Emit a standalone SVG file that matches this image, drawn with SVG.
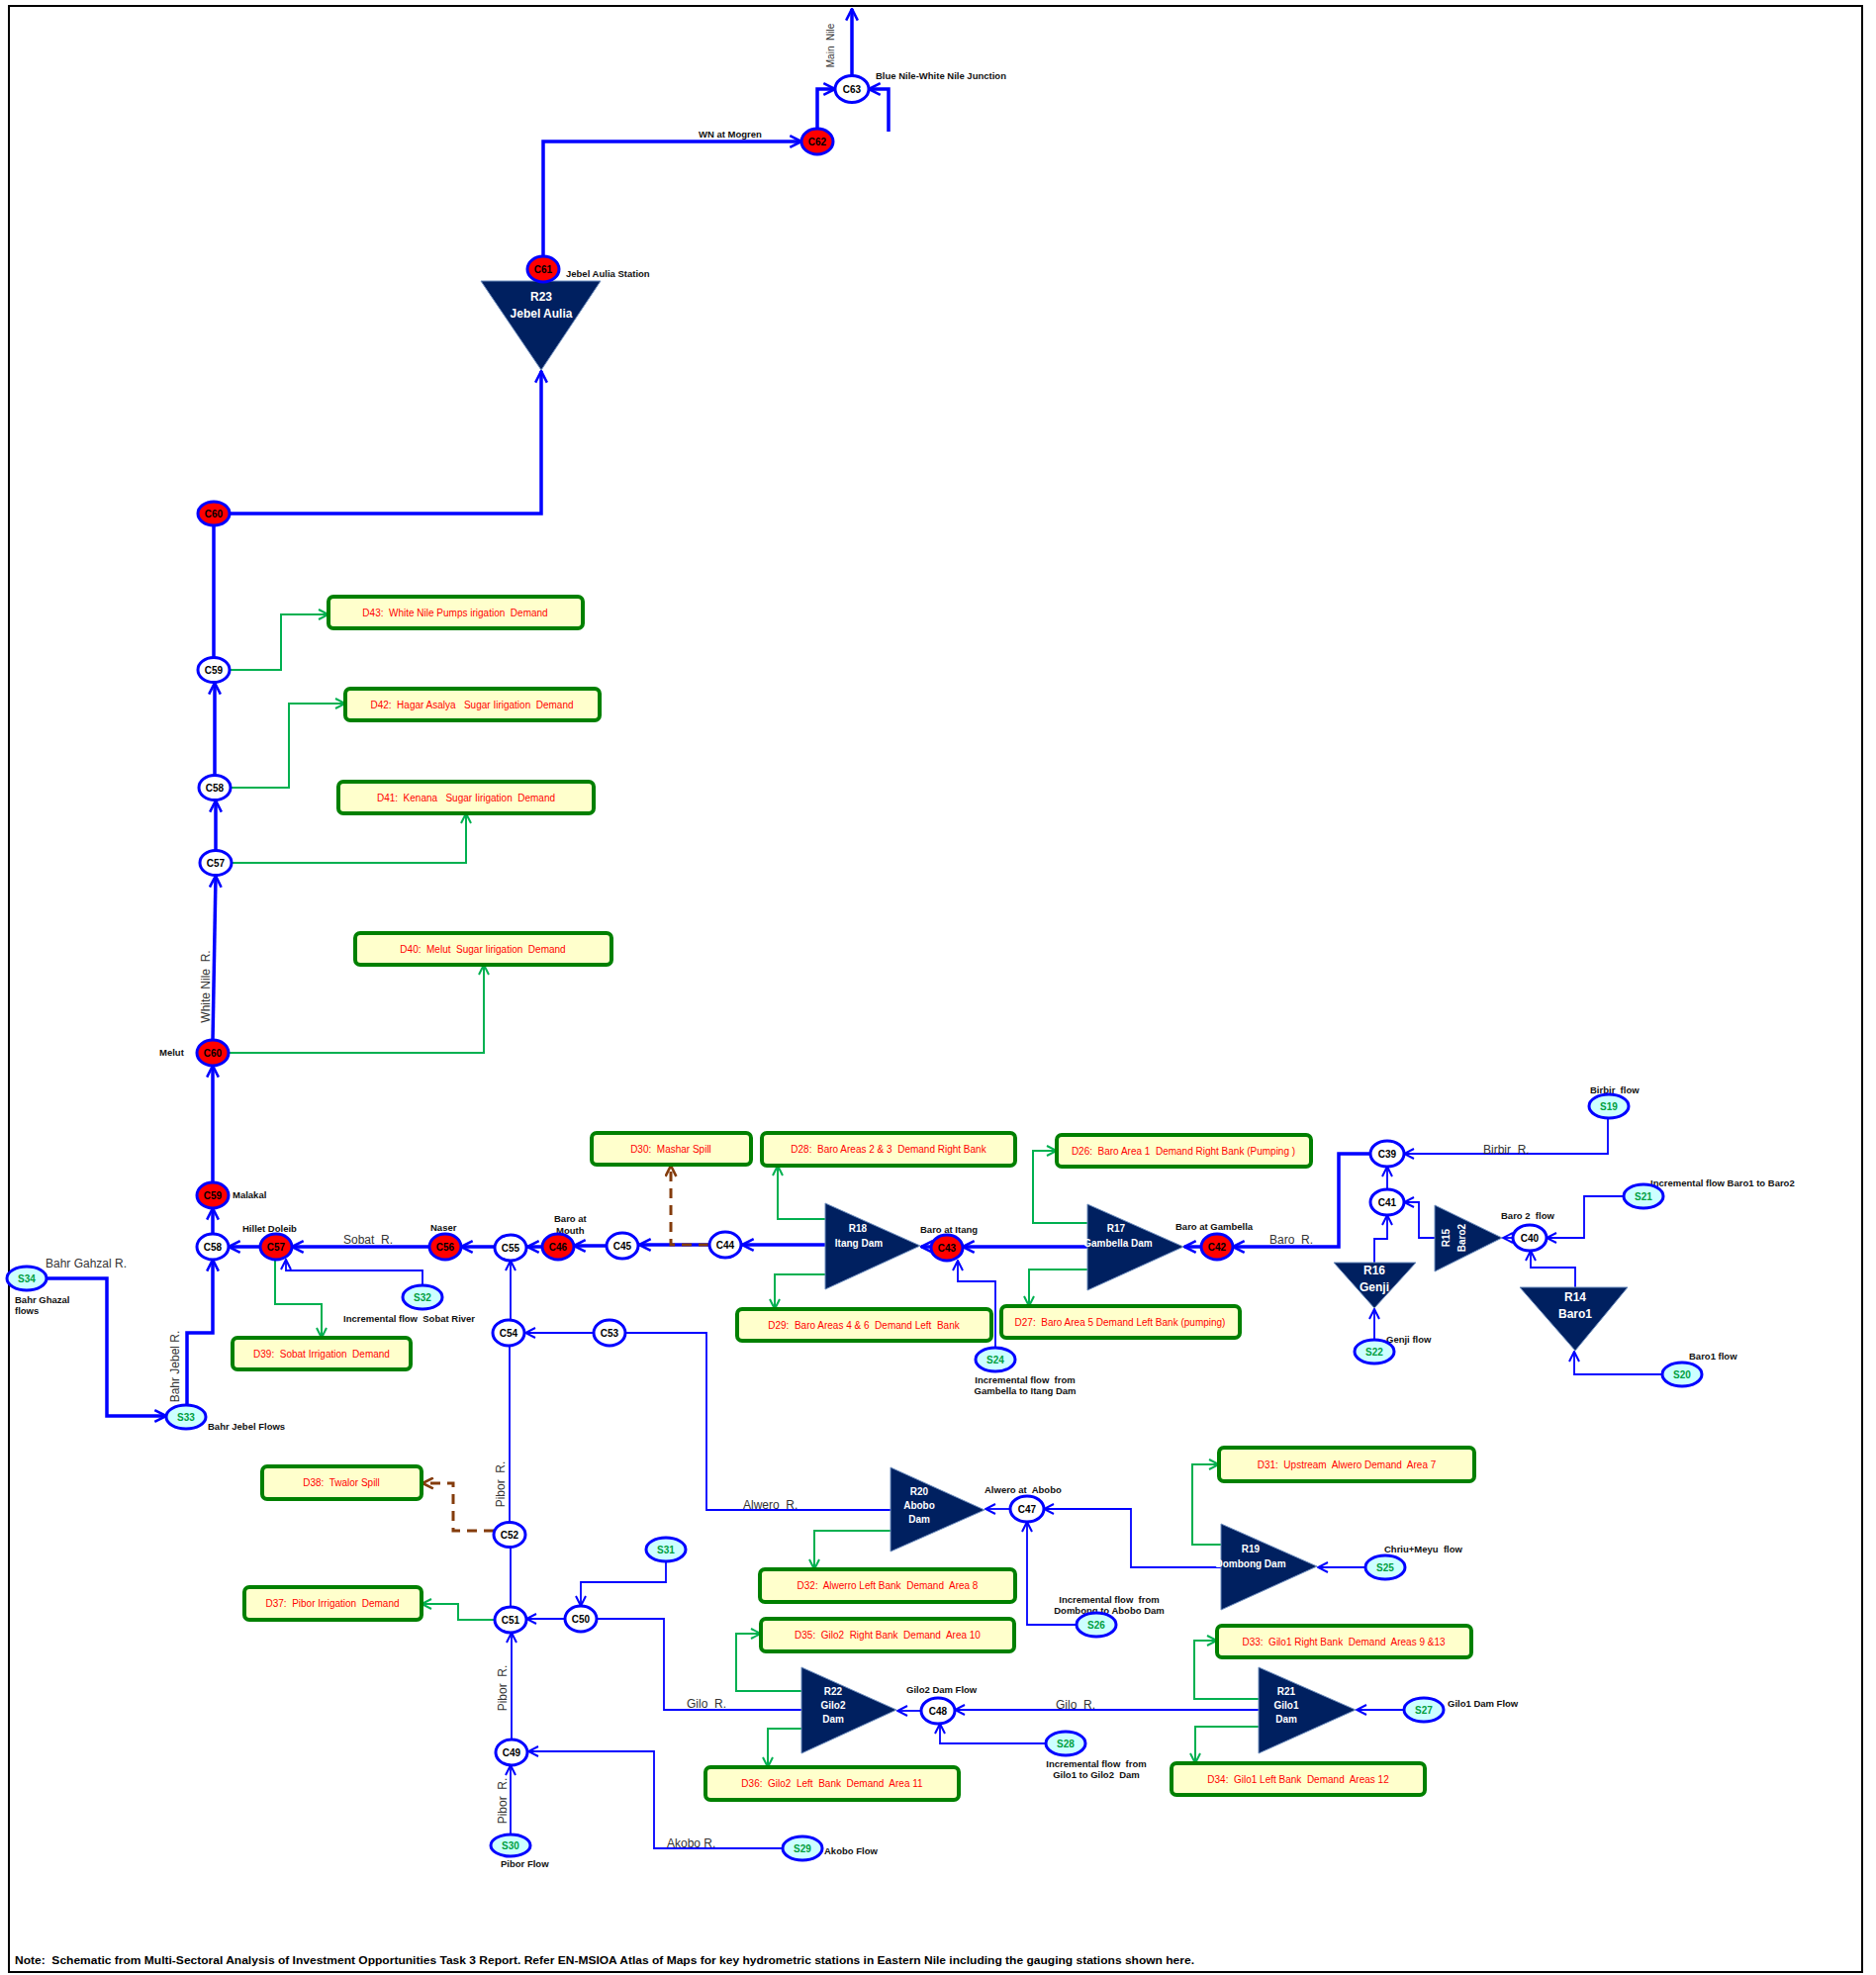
<svg xmlns="http://www.w3.org/2000/svg" width="1896" height="1996" viewBox="0 0 1896 1996">
<style>
text{font-family:"Liberation Sans",Arial,sans-serif;white-space:pre}
.cn{fill:#fff;stroke:#0000ff;stroke-width:3}
.cr{fill:#ff0000;stroke:#0000ff;stroke-width:3}
.sn{fill:#ccffff;stroke:#0000ff;stroke-width:3}
.nt{font-size:10px;font-weight:bold;fill:#000;text-anchor:middle}
.st{font-size:10px;font-weight:bold;fill:#00a040;text-anchor:middle}
.res{fill:#002060;stroke:#6f8fbf;stroke-width:1}
.rt{font-size:10px;font-weight:bold;fill:#fff;text-anchor:middle}
.rtb{font-size:12px;font-weight:bold;fill:#fff;text-anchor:middle}
.dm{fill:#ffffcc;stroke:#008000;stroke-width:4}
.dt{font-size:10px;fill:#ff0000;text-anchor:middle}
.lb{font-size:9.5px;font-weight:bold;fill:#111}
.lbm{font-size:9.5px;font-weight:bold;fill:#111;text-anchor:middle}
.rv{font-size:12px;fill:#333}
.rvm{font-size:12px;fill:#333;text-anchor:middle}
.w3{fill:none;stroke:#0000ff;stroke-width:3.5}
.w2{fill:none;stroke:#0000ff;stroke-width:1.8}
.g{fill:none;stroke:#00b050;stroke-width:2}
.sp{fill:none;stroke:#843c0c;stroke-width:3;stroke-dasharray:10 7}
</style>
<defs>
<marker id="ab" viewBox="0 0 12 12" refX="11" refY="6" markerWidth="14" markerHeight="14" markerUnits="userSpaceOnUse" orient="auto"><path d="M1,1 L11,6 L1,11" fill="none" stroke="#0000ff" stroke-width="2.2"/></marker>
<marker id="as" viewBox="0 0 12 12" refX="11" refY="6" markerWidth="12" markerHeight="12" markerUnits="userSpaceOnUse" orient="auto"><path d="M1,1 L11,6 L1,11" fill="none" stroke="#0000ff" stroke-width="2"/></marker>
<marker id="ag" viewBox="0 0 12 12" refX="11" refY="6" markerWidth="12" markerHeight="12" markerUnits="userSpaceOnUse" orient="auto"><path d="M1,1 L11,6 L1,11" fill="none" stroke="#00b050" stroke-width="2"/></marker>
<marker id="ar" viewBox="0 0 12 12" refX="11" refY="6" markerWidth="13" markerHeight="13" markerUnits="userSpaceOnUse" orient="auto"><path d="M1,1 L11,6 L1,11" fill="none" stroke="#843c0c" stroke-width="2.4"/></marker>
</defs>
<rect x="0" y="0" width="1896" height="1996" fill="#fff"/>
<rect x="9" y="6" width="1873" height="1987" fill="none" stroke="#000" stroke-width="2"/>

<g id="connectors">
<path class="w3" d="M232,519 H547 V375" marker-end="url(#ab)"/>
<path class="w3" d="M549,259 V143 H810" marker-end="url(#ab)"/>
<path class="w3" d="M826,130 V90 H844" marker-end="url(#ab)"/>
<path class="w3" d="M898,133 V90 H878" marker-end="url(#ab)"/>
<path class="w3" d="M861,77 V9" marker-end="url(#ab)"/>
<path class="w3" d="M216,664 V531"/>
<path class="w3" d="M217,783 V690" marker-end="url(#ab)"/>
<path class="w3" d="M218,859 V809" marker-end="url(#ab)"/>
<path class="w3" d="M215,1051 L218,885" marker-end="url(#ab)"/>
<path class="w3" d="M215,1195 V1077" marker-end="url(#ab)"/>
<path class="w3" d="M215,1247 V1221" marker-end="url(#ab)"/>
<path class="w3" d="M263,1260 H231" marker-end="url(#ab)"/>
<path class="w3" d="M434,1260 H295" marker-end="url(#ab)"/>
<path class="w3" d="M500,1260 H466" marker-end="url(#ab)"/>
<path class="w3" d="M548,1260 H533" marker-end="url(#ab)"/>
<path class="w3" d="M612,1259 H580" marker-end="url(#ab)"/>
<path class="w3" d="M716,1258 H646" marker-end="url(#ab)"/>
<path class="w3" d="M834,1258 H750" marker-end="url(#ab)"/>
<path class="w3" d="M941,1260 H931" marker-end="url(#ab)"/>
<path class="w3" d="M1099,1260 H973" marker-end="url(#ab)"/>
<path class="w3" d="M1214,1260 H1197" marker-end="url(#ab)"/>
<path class="w3" d="M1385,1166 H1353 V1260 H1246" marker-end="url(#ab)"/>
<path class="w3" d="M47,1292 H108 V1431 H168" marker-end="url(#ab)"/>
<path class="w3" d="M189,1420 V1347 H215 V1273" marker-end="url(#ab)"/>

<path class="w2" d="M1402,1202 V1179" marker-end="url(#as)"/>
<path class="w2" d="M1389,1276 V1252 H1402 V1228" marker-end="url(#as)"/>
<path class="w2" d="M1389,1354 V1323" marker-end="url(#as)"/>
<path class="w2" d="M1450,1251 H1434 V1215 H1419" marker-end="url(#as)"/>
<path class="w2" d="M1529,1251 H1519" marker-end="url(#as)"/>
<path class="w2" d="M1641,1209 H1601 V1251 H1563" marker-end="url(#as)"/>
<path class="w2" d="M1592,1301 V1281 H1547 V1264" marker-end="url(#as)"/>
<path class="w2" d="M1680,1389 H1591 V1366" marker-end="url(#as)"/>
<path class="w2" d="M1625,1130 V1166 H1419" marker-end="url(#as)"/>
<path class="w2" d="M1006,1362 V1295 H968 V1274" marker-end="url(#as)"/>
<path class="w2" d="M427,1299 V1284 H289 V1273" marker-end="url(#as)"/>
<path class="w2" d="M516,1334 V1274" marker-end="url(#as)"/>
<path class="w2" d="M599,1347 H531" marker-end="url(#as)"/>
<path class="w2" d="M515,1360 V1538"/>
<path class="w2" d="M516,1564 V1624"/>
<path class="w2" d="M570,1636 H532" marker-end="url(#as)"/>
<path class="w2" d="M673,1578 V1599 H587 V1623" marker-end="url(#as)"/>
<path class="w2" d="M810,1728 H671 V1636 H604"/>
<path class="w2" d="M517,1758 V1650" marker-end="url(#as)"/>
<path class="w2" d="M516,1854 V1784" marker-end="url(#as)"/>
<path class="w2" d="M791,1868 H661 V1770 H534" marker-end="url(#as)"/>
<path class="w2" d="M633,1347 H714 V1526 H900"/>
<path class="w2" d="M1021,1525 H996" marker-end="url(#as)"/>
<path class="w2" d="M1234,1584 H1143 V1525 H1055" marker-end="url(#as)"/>
<path class="w2" d="M1380,1584 H1332" marker-end="url(#as)"/>
<path class="w2" d="M1088,1642 H1038 V1538" marker-end="url(#as)"/>
<path class="w2" d="M931,1729 H907" marker-end="url(#as)"/>
<path class="w2" d="M1272,1728 H965" marker-end="url(#as)"/>
<path class="w2" d="M1419,1728 H1371" marker-end="url(#as)"/>
<path class="w2" d="M1057,1762 H950 V1742" marker-end="url(#as)"/>

<path class="g" d="M232,677 H284 V621 H332" marker-end="url(#ag)"/>
<path class="g" d="M233,796 H292 V711 H349" marker-end="url(#ag)"/>
<path class="g" d="M234,872 H471 V822" marker-end="url(#ag)"/>
<path class="g" d="M231,1064 H489 V975" marker-end="url(#ag)"/>
<path class="g" d="M278,1273 V1318 H325 V1352" marker-end="url(#ag)"/>
<path class="g" d="M834,1232 H786 V1178" marker-end="url(#ag)"/>
<path class="g" d="M834,1288 H783 V1323" marker-end="url(#ag)"/>
<path class="g" d="M1099,1236 H1044 V1163 H1068" marker-end="url(#ag)"/>
<path class="g" d="M1099,1283 H1040 V1320" marker-end="url(#ag)"/>
<path class="g" d="M500,1637 H463 V1621 H426" marker-end="url(#ag)"/>
<path class="g" d="M900,1547 H823 V1586" marker-end="url(#ag)"/>
<path class="g" d="M1234,1561 H1205 V1480 H1232" marker-end="url(#ag)"/>
<path class="g" d="M810,1709 H744 V1651 H769" marker-end="url(#ag)"/>
<path class="g" d="M810,1747 H776 V1786" marker-end="url(#ag)"/>
<path class="g" d="M1272,1717 H1207 V1658 H1230" marker-end="url(#ag)"/>
<path class="g" d="M1272,1745 H1208 V1782" marker-end="url(#ag)"/>

<path class="sp" d="M716,1258 H678 V1178" marker-end="url(#ar)"/>
<path class="sp" d="M499,1547 H458 V1499 H427" marker-end="url(#ar)"/>
</g>

<g id="labels">
<text class="rvm" style="font-size:10px" transform="translate(843,46) rotate(-90)">Main  Nile</text>
<text class="lb" x="885" y="80">Blue Nile-White Nile Junction</text>
<text class="lb" x="706" y="139">WN at Mogren</text>
<text class="lb" x="572" y="280">Jebel Aulia Station</text>
<text class="rvm" transform="translate(212,997) rotate(-90)">White Nile  R.</text>
<text class="lb" x="161" y="1067">Melut</text>
<text class="lb" x="235" y="1211">Malakal</text>
<text class="lb" x="245" y="1245">Hillet Doleib</text>
<text class="lb" x="435" y="1244">Naser</text>
<text class="lb" x="560" y="1235">Baro at</text>
<text class="lb" x="562" y="1247">Mouth</text>
<text class="rv" x="347" y="1257">Sobat  R.</text>
<text class="rv" x="46" y="1281">Bahr Gahzal R.</text>
<text class="lb" x="15" y="1317">Bahr Ghazal</text>
<text class="lb" x="15" y="1328">flows</text>
<text class="rvm" transform="translate(181,1381) rotate(-90)">Bahr Jebel R.</text>
<text class="lb" x="210" y="1445">Bahr Jebel Flows</text>
<text class="lb" x="347" y="1336">Incremental flow  Sobat River</text>
<text class="lb" x="930" y="1246">Baro at Itang</text>
<text class="lbm" x="1036" y="1398">Incremental flow  from</text>
<text class="lbm" x="1036" y="1409">Gambella to Itang Dam</text>
<text class="lb" x="1188" y="1243">Baro at Gambella</text>
<text class="rv" x="1283" y="1257">Baro  R.</text>
<text class="rv" x="1499" y="1166">Birbir  R.</text>
<text class="lb" x="1607" y="1105">Birbir  flow</text>
<text class="lb" x="1668" y="1199">Incremental flow Baro1 to Baro2</text>
<text class="lb" x="1517" y="1232">Baro 2  flow</text>
<text class="lb" x="1401" y="1357">Genji flow</text>
<text class="lb" x="1707" y="1374">Baro1 flow</text>
<text class="rvm" transform="translate(510,1500) rotate(-90)">Pibor  R.</text>
<text class="rvm" transform="translate(512,1706) rotate(-90)">Pibor  R.</text>
<text class="rvm" transform="translate(512,1820) rotate(-90)">Pibor  R.</text>
<text class="lb" x="506" y="1887">Pibor Flow</text>
<text class="rv" x="674" y="1867">Akobo R.</text>
<text class="lb" x="833" y="1874">Akobo Flow</text>
<text class="rv" x="751" y="1525">Alwero  R.</text>
<text class="lb" x="995" y="1509">Alwero at  Abobo</text>
<text class="lb" x="1399" y="1569">Chriu+Meyu  flow</text>
<text class="lbm" x="1121" y="1620">Incremental flow  from</text>
<text class="lbm" x="1121" y="1631">Dombong to Abobo Dam</text>
<text class="rv" x="694" y="1726">Gilo  R.</text>
<text class="rv" x="1067" y="1727">Gilo  R.</text>
<text class="lb" x="916" y="1711">Gilo2 Dam Flow</text>
<text class="lb" x="1463" y="1725">Gilo1 Dam Flow</text>
<text class="lbm" x="1108" y="1786">Incremental flow  from</text>
<text class="lbm" x="1108" y="1797">Gilo1 to Gilo2  Dam</text>
<text x="15" y="1985" style="font-size:10.5px;font-weight:bold;fill:#000" textLength="1192" lengthAdjust="spacingAndGlyphs">Note:  Schematic from Multi-Sectoral Analysis of Investment Opportunities Task 3 Report. Refer EN-MSIOA Atlas of Maps for key hydrometric stations in Eastern Nile including the gauging stations shown here.</text>
</g>

<g id="R23"><polygon class="res" points="486,284 607,284 547,374"/><text class="rtb" x="547" y="304">R23</text><text class="rtb" x="547" y="321">Jebel Aulia</text></g>
<g id="R18"><polygon class="res" points="834,1216 834,1303 930,1259"/><text class="rt" x="867" y="1245">R18</text><text class="rt" x="868" y="1260">Itang Dam</text></g>
<g id="R17"><polygon class="res" points="1099,1217 1099,1304 1196,1260"/><text class="rt" x="1128" y="1245">R17</text><text class="rt" x="1130" y="1260">Gambella Dam</text></g>
<g id="R16"><polygon class="res" points="1348,1276 1431,1276 1389,1322"/><text class="rtb" x="1389" y="1288">R16</text><text class="rtb" x="1389" y="1305">Genji</text></g>
<g id="R15"><polygon class="res" points="1450,1218 1450,1285 1518,1251"/><text class="rt" transform="translate(1465,1251) rotate(-90)">R15</text><text class="rt" transform="translate(1481,1251) rotate(-90)">Baro2</text></g>
<g id="R14"><polygon class="res" points="1536,1301 1645,1301 1592,1365"/><text class="rtb" x="1592" y="1315">R14</text><text class="rtb" x="1592" y="1332">Baro1</text></g>
<g id="R20"><polygon class="res" points="900,1483 900,1568 995,1526"/><text class="rt" x="929" y="1511">R20</text><text class="rt" x="929" y="1525">Abobo</text><text class="rt" x="929" y="1539">Dam</text></g>
<g id="R19"><polygon class="res" points="1234,1540 1234,1627 1331,1583"/><text class="rt" x="1264" y="1569">R19</text><text class="rt" x="1264" y="1584">Dombong Dam</text></g>
<g id="R22"><polygon class="res" points="810,1685 810,1772 906,1728"/><text class="rt" x="842" y="1713">R22</text><text class="rt" x="842" y="1727">Gilo2</text><text class="rt" x="842" y="1741">Dam</text></g>
<g id="R21"><polygon class="res" points="1272,1685 1272,1772 1370,1728"/><text class="rt" x="1300" y="1713">R21</text><text class="rt" x="1300" y="1727">Gilo1</text><text class="rt" x="1300" y="1741">Dam</text></g>

<g id="C63"><ellipse class="cn" cx="861" cy="90" rx="17" ry="13.5"/><text class="nt" x="861" y="93.5">C63</text></g>
<g id="C62"><ellipse class="cr" cx="826" cy="143" rx="16" ry="13"/><text class="nt" x="826" y="146.5">C62</text></g>
<g id="C61"><ellipse class="cr" cx="549" cy="272" rx="16" ry="13"/><text class="nt" x="549" y="275.5">C61</text></g>
<g id="C60-upper"><ellipse class="cr" cx="216" cy="519" rx="16" ry="12"/><text class="nt" x="216" y="522.5">C60</text></g>
<g id="C59-upper"><ellipse class="cn" cx="216" cy="677" rx="16" ry="12.5"/><text class="nt" x="216" y="680.5">C59</text></g>
<g id="C58-upper"><ellipse class="cn" cx="217" cy="796" rx="16" ry="12.5"/><text class="nt" x="217" y="799.5">C58</text></g>
<g id="C57-upper"><ellipse class="cn" cx="218" cy="872" rx="16" ry="12.5"/><text class="nt" x="218" y="875.5">C57</text></g>
<g id="C60-melut"><ellipse class="cr" cx="215" cy="1064" rx="16" ry="13"/><text class="nt" x="215" y="1067.5">C60</text></g>
<g id="C59-malakal"><ellipse class="cr" cx="215" cy="1208" rx="16" ry="13"/><text class="nt" x="215" y="1211.5">C59</text></g>
<g id="C58-lower"><ellipse class="cn" cx="215" cy="1260" rx="16" ry="13"/><text class="nt" x="215" y="1263.5">C58</text></g>
<g id="C57-hillet"><ellipse class="cr" cx="279" cy="1260" rx="16" ry="13"/><text class="nt" x="279" y="1263.5">C57</text></g>
<g id="C56"><ellipse class="cr" cx="450" cy="1260" rx="16" ry="13"/><text class="nt" x="450" y="1263.5">C56</text></g>
<g id="C55"><ellipse class="cn" cx="516" cy="1261" rx="16" ry="13"/><text class="nt" x="516" y="1264.5">C55</text></g>
<g id="C46"><ellipse class="cr" cx="564" cy="1260" rx="16" ry="13"/><text class="nt" x="564" y="1263.5">C46</text></g>
<g id="C45"><ellipse class="cn" cx="629" cy="1259" rx="16" ry="13"/><text class="nt" x="629" y="1262.5">C45</text></g>
<g id="C44"><ellipse class="cn" cx="733" cy="1258" rx="16" ry="13"/><text class="nt" x="733" y="1261.5">C44</text></g>
<g id="C43"><ellipse class="cr" cx="957" cy="1261" rx="16" ry="13"/><text class="nt" x="957" y="1264.5">C43</text></g>
<g id="C42"><ellipse class="cr" cx="1230" cy="1260" rx="16" ry="13"/><text class="nt" x="1230" y="1263.5">C42</text></g>
<g id="C39"><ellipse class="cn" cx="1402" cy="1166" rx="17" ry="13"/><text class="nt" x="1402" y="1169.5">C39</text></g>
<g id="C41"><ellipse class="cn" cx="1402" cy="1215" rx="17" ry="13"/><text class="nt" x="1402" y="1218.5">C41</text></g>
<g id="C40"><ellipse class="cn" cx="1546" cy="1251" rx="17" ry="13"/><text class="nt" x="1546" y="1254.5">C40</text></g>
<g id="C54"><ellipse class="cn" cx="514" cy="1347" rx="16" ry="13"/><text class="nt" x="514" y="1350.5">C54</text></g>
<g id="C53"><ellipse class="cn" cx="616" cy="1347" rx="16" ry="13"/><text class="nt" x="616" y="1350.5">C53</text></g>
<g id="C52"><ellipse class="cn" cx="515" cy="1551" rx="16" ry="12.5"/><text class="nt" x="515" y="1554.5">C52</text></g>
<g id="C51"><ellipse class="cn" cx="516" cy="1637" rx="16" ry="13"/><text class="nt" x="516" y="1640.5">C51</text></g>
<g id="C50"><ellipse class="cn" cx="587" cy="1636" rx="16" ry="13"/><text class="nt" x="587" y="1639.5">C50</text></g>
<g id="C49"><ellipse class="cn" cx="517" cy="1771" rx="16" ry="13"/><text class="nt" x="517" y="1774.5">C49</text></g>
<g id="C47"><ellipse class="cn" cx="1038" cy="1525" rx="17" ry="13"/><text class="nt" x="1038" y="1528.5">C47</text></g>
<g id="C48"><ellipse class="cn" cx="948" cy="1729" rx="17" ry="13"/><text class="nt" x="948" y="1732.5">C48</text></g>

<g id="S19"><ellipse class="sn" cx="1626" cy="1118" rx="20" ry="12"/><text class="st" x="1626" y="1121.5">S19</text></g>
<g id="S20"><ellipse class="sn" cx="1700" cy="1389" rx="20" ry="12"/><text class="st" x="1700" y="1392.5">S20</text></g>
<g id="S21"><ellipse class="sn" cx="1661" cy="1209" rx="20" ry="12"/><text class="st" x="1661" y="1212.5">S21</text></g>
<g id="S22"><ellipse class="sn" cx="1389" cy="1366" rx="20" ry="12"/><text class="st" x="1389" y="1369.5">S22</text></g>
<g id="S24"><ellipse class="sn" cx="1006" cy="1374" rx="20" ry="12"/><text class="st" x="1006" y="1377.5">S24</text></g>
<g id="S25"><ellipse class="sn" cx="1400" cy="1584" rx="20" ry="12"/><text class="st" x="1400" y="1587.5">S25</text></g>
<g id="S26"><ellipse class="sn" cx="1108" cy="1642" rx="20" ry="12"/><text class="st" x="1108" y="1645.5">S26</text></g>
<g id="S27"><ellipse class="sn" cx="1439" cy="1728" rx="20" ry="12"/><text class="st" x="1439" y="1731.5">S27</text></g>
<g id="S28"><ellipse class="sn" cx="1077" cy="1762" rx="20" ry="12"/><text class="st" x="1077" y="1765.5">S28</text></g>
<g id="S29"><ellipse class="sn" cx="811" cy="1868" rx="20" ry="12"/><text class="st" x="811" y="1871.5">S29</text></g>
<g id="S30"><ellipse class="sn" cx="516" cy="1865" rx="20" ry="11"/><text class="st" x="516" y="1868.5">S30</text></g>
<g id="S31"><ellipse class="sn" cx="673" cy="1566" rx="20" ry="12"/><text class="st" x="673" y="1569.5">S31</text></g>
<g id="S32"><ellipse class="sn" cx="427" cy="1311" rx="20" ry="12"/><text class="st" x="427" y="1314.5">S32</text></g>
<g id="S33"><ellipse class="sn" cx="188" cy="1432" rx="20" ry="12"/><text class="st" x="188" y="1435.5">S33</text></g>
<g id="S34"><ellipse class="sn" cx="27" cy="1292" rx="20" ry="12"/><text class="st" x="27" y="1295.5">S34</text></g>

<g id="D43"><rect class="dm" x="332" y="603" width="257" height="32" rx="5"/><text class="dt" x="460" y="623">D43:  White Nile Pumps irigation  Demand</text></g>
<g id="D42"><rect class="dm" x="349" y="696" width="257" height="32" rx="5"/><text class="dt" x="477" y="716">D42:  Hagar Asalya   Sugar Iirigation  Demand</text></g>
<g id="D41"><rect class="dm" x="342" y="790" width="258" height="32" rx="5"/><text class="dt" x="471" y="810">D41:  Kenana   Sugar Iirigation  Demand</text></g>
<g id="D40"><rect class="dm" x="359" y="943" width="259" height="32" rx="5"/><text class="dt" x="488" y="963">D40:  Melut  Sugar Iirigation  Demand</text></g>
<g id="D39"><rect class="dm" x="235" y="1352" width="180" height="32" rx="5"/><text class="dt" x="325" y="1372">D39:  Sobat Irrigation  Demand</text></g>
<g id="D30"><rect class="dm" x="598" y="1145" width="161" height="32" rx="5"/><text class="dt" x="678" y="1165">D30:  Mashar Spill</text></g>
<g id="D28"><rect class="dm" x="770" y="1145" width="256" height="33" rx="5"/><text class="dt" x="898" y="1165">D28:  Baro Areas 2 &amp; 3  Demand Right Bank</text></g>
<g id="D26"><rect class="dm" x="1068" y="1147" width="257" height="32" rx="5"/><text class="dt" x="1196" y="1167">D26:  Baro Area 1  Demand Right Bank (Pumping )</text></g>
<g id="D29"><rect class="dm" x="745" y="1323" width="257" height="32" rx="5"/><text class="dt" x="873" y="1343">D29:  Baro Areas 4 &amp; 6  Demand Left  Bank</text></g>
<g id="D27"><rect class="dm" x="1012" y="1320" width="241" height="32" rx="5"/><text class="dt" x="1132" y="1340">D27:  Baro Area 5 Demand Left Bank (pumping)</text></g>
<g id="D38"><rect class="dm" x="265" y="1482" width="161" height="33" rx="5"/><text class="dt" x="345" y="1502">D38:  Twalor Spill</text></g>
<g id="D37"><rect class="dm" x="247" y="1604" width="179" height="33" rx="5"/><text class="dt" x="336" y="1624">D37:  Pibor Irrigation  Demand</text></g>
<g id="D31"><rect class="dm" x="1232" y="1463" width="258" height="34" rx="5"/><text class="dt" x="1361" y="1484">D31:  Upstream  Alwero Demand  Area 7</text></g>
<g id="D32"><rect class="dm" x="768" y="1586" width="258" height="33" rx="5"/><text class="dt" x="897" y="1606">D32:  Alwerro Left Bank  Demand  Area 8</text></g>
<g id="D35"><rect class="dm" x="769" y="1636" width="256" height="33" rx="5"/><text class="dt" x="897" y="1656">D35:  Gilo2  Right Bank  Demand  Area 10</text></g>
<g id="D33"><rect class="dm" x="1230" y="1643" width="257" height="32" rx="5"/><text class="dt" x="1358" y="1663">D33:  Gilo1 Right Bank  Demand  Areas 9 &amp;13</text></g>
<g id="D36"><rect class="dm" x="713" y="1786" width="256" height="33" rx="5"/><text class="dt" x="841" y="1806">D36:  Gilo2  Left  Bank  Demand  Area 11</text></g>
<g id="D34"><rect class="dm" x="1184" y="1782" width="256" height="32" rx="5"/><text class="dt" x="1312" y="1802">D34:  Gilo1 Left Bank  Demand  Areas 12</text></g>
</svg>
